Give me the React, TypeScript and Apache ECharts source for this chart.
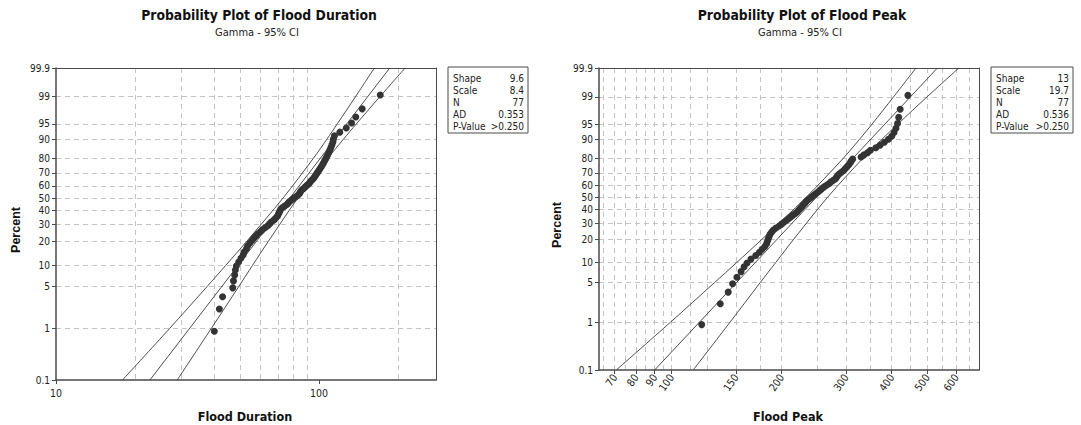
import React, { useEffect, useRef } from "react";
import * as echarts from "echarts";

// ---------- data ----------
const plotPercent = [
  0.9, 2.2, 3.5, 4.8, 6.1, 7.4, 8.7, 9.9, 11.2, 12.5,
  13.8, 15.1, 16.4, 17.7, 19.0, 20.3, 21.6, 22.9, 24.2, 25.5,
  26.7, 28.0, 29.3, 30.6, 31.9, 33.2, 34.5, 35.8, 37.1, 38.4,
  39.7, 41.0, 42.2, 43.5, 44.8, 46.1, 47.4, 48.7, 50.0, 51.3,
  52.6, 53.9, 55.2, 56.5, 57.8, 59.0, 60.3, 61.6, 62.9, 64.2,
  65.5, 66.8, 68.1, 69.4, 70.7, 72.0, 73.3, 74.5, 75.8, 77.1,
  78.4, 79.7, 81.0, 82.3, 83.6, 84.9, 86.2, 87.5, 88.8, 90.1,
  91.3, 92.6, 93.9, 95.2, 96.5, 97.8, 99.1,
];

const durationData = [
  40.0, 41.8, 43.0, 47.0, 47.3, 47.8, 48.1, 48.5, 49.5, 50.5,
  51.5, 52.0, 53.0, 53.5, 54.5, 55.5, 56.5, 57.5, 58.5, 60.0,
  61.0, 62.5, 64.0, 65.0, 66.0, 67.5, 68.5, 69.5, 70.0, 70.5,
  71.0, 71.5, 72.5, 74.0, 75.5, 76.5, 77.5, 79.0, 80.5, 82.0,
  83.5, 84.5, 85.0, 86.0, 87.5, 88.5, 90.0, 91.5, 92.5, 93.5,
  95.0, 96.0, 97.0, 98.0, 99.0, 100.0, 101.0, 102.0, 103.0, 104.0,
  105.0, 106.0, 107.0, 108.0, 109.0, 110.0, 111.0, 112.0, 113.0, 113.5,
  114.5, 120.0, 127.0, 133.0, 138.0, 146.0, 171.0,
];

const peakData = [
  121, 136, 143, 147, 151, 155, 158, 161, 165, 170,
  174, 177, 180, 182, 183, 184, 185, 186, 188, 190,
  193, 197, 200, 203, 206, 209, 212, 215, 218, 221,
  223, 225, 227, 229, 231, 233, 235, 238, 241, 244,
  247, 250, 253, 256, 259, 262, 266, 270, 273, 277,
  281, 283, 285, 288, 292, 296, 299, 302, 305, 308,
  310, 313, 330, 336, 344, 350, 362, 372, 382, 392,
  400, 406, 411, 415, 418, 422, 443,
];

const ciPercent = [0.1, 1, 5, 10, 20, 50, 80, 90, 95, 99, 99.9];
const fitPercent = [0.1, 99.9];

const durationFit = [22.76, 185.8];
const durationLower = [17.9, 27.0, 37.5, 44.1, 53.1, 73.0, 95.1, 107.2, 117.4, 137.8, 162.4];
const durationUpper = [28.9, 38.9, 49.5, 55.8, 64.2, 83.1, 107.9, 123.9, 138.7, 170.6, 212.6];

const peakFit = [90.0, 533.4];
const peakLower = [70.7, 99.4, 131.1, 150.7, 176.7, 233.3, 294.4, 326.4, 353.2, 404.7, 466.1];
const peakUpper = [114.7, 144.6, 174.8, 192.7, 215.8, 267.0, 333.0, 375.7, 415.4, 499.7, 610.4];

const percentTicks = [0.1, 1, 5, 10, 20, 30, 40, 50, 60, 70, 80, 90, 95, 99, 99.9];
const percentGrid = [1, 5, 10, 20, 30, 40, 50, 60, 70, 80, 90, 95, 99];

const durationTicks = [10, 100];
const durationGrid = [20, 30, 40, 50, 60, 70, 80, 90, 200];
const peakTicks = [70, 80, 90, 100, 150, 200, 300, 400, 500, 600];
const peakGrid = [65, 70, 75, 80, 85, 90, 95, 100, 112.5, 125, 150, 175, 200, 250, 300, 350, 400, 450, 500, 550, 600, 650];

const durationStats = [["Shape", "9.6"], ["Scale", "8.4"], ["N", "77"], ["AD", "0.353"], ["P-Value", ">0.250"]];
const peakStats = [["Shape", "13"], ["Scale", "19.7"], ["N", "77"], ["AD", "0.536"], ["P-Value", ">0.250"]];

// ---------- gamma probability scale ----------
function lnGamma(z: number): number {
  const g = 7;
  const c = [0.99999999999980993, 676.5203681218851, -1259.1392167224028, 771.32342877765313,
    -176.61502916214059, 12.507343278686905, -0.13857109526572012, 9.9843695780195716e-6, 1.5056327351493116e-7];
  if (z < 0.5) return Math.log(Math.PI / Math.sin(Math.PI * z)) - lnGamma(1 - z);
  z -= 1;
  let x = c[0];
  for (let i = 1; i < g + 2; i++) x += c[i] / (z + i);
  const t = z + g + 0.5;
  return 0.5 * Math.log(2 * Math.PI) + (z + 0.5) * Math.log(t) - t + Math.log(x);
}
function gammaP(a: number, x: number): number {
  if (x <= 0) return 0;
  const lg = -x + a * Math.log(x) - lnGamma(a);
  if (x < a + 1) {
    let ap = a, sum = 1 / a, del = sum;
    for (let n = 0; n < 1000; n++) {
      ap += 1; del *= x / ap; sum += del;
      if (Math.abs(del) < Math.abs(sum) * 1e-15) break;
    }
    return sum * Math.exp(lg);
  }
  let b = x + 1 - a, c = 1 / 1e-300, d = 1 / b, h = d;
  for (let i = 1; i < 1000; i++) {
    const an = -i * (i - a);
    b += 2;
    d = an * d + b; if (Math.abs(d) < 1e-300) d = 1e-300;
    c = b + an / c; if (Math.abs(c) < 1e-300) c = 1e-300;
    d = 1 / d;
    const del = d * c; h *= del;
    if (Math.abs(del - 1) < 1e-15) break;
  }
  return 1 - Math.exp(lg) * h;
}
function probScale(shape: number) {
  return (pct: number) => {
    const p = pct / 100;
    let lo = Math.log(1e-6), hi = Math.log(shape * 50);
    for (let i = 0; i < 80; i++) {
      const mid = (lo + hi) / 2;
      if (gammaP(shape, Math.exp(mid)) < p) lo = mid; else hi = mid;
    }
    return (lo + hi) / 2;
  };
}

const FONT_NARROW = "'Liberation Sans Narrow', 'Arial Narrow', 'DejaVu Sans Condensed', sans-serif";
const FONT_TICK = "'DejaVu Sans Condensed', 'Liberation Sans Narrow', sans-serif";
const FRAME = "#4a4a4a";
const GRID = "#c4c4c4";
const LINE = "#3a3a3a";
const DOT = "#333333";

type Panel = {
  left: number; top: number; width: number; height: number;
  xMin: number; xMax: number; shape: number;
  data: number[]; fit: number[]; lower: number[]; upper: number[];
  ticks: number[]; grid: number[]; rotate: number;
  title: string; xName: string; stats: string[][];
  titleX: number; boxX: number; boxW: number; percentX: number;
};

const panels: Panel[] = [
  {
    left: 56, top: 68, width: 380, height: 312, xMin: 10, xMax: 278.6, shape: 9.6,
    data: durationData, fit: durationFit, lower: durationLower, upper: durationUpper,
    ticks: durationTicks, grid: durationGrid, rotate: 0,
    title: "Probability Plot of Flood Duration", xName: "Flood Duration", stats: durationStats,
    titleX: 259, boxX: 448, boxW: 80, percentX: 16,
  },
  {
    left: 599, top: 68, width: 380, height: 302, xMin: 63.4, xMax: 693, shape: 13,
    data: peakData, fit: peakFit, lower: peakLower, upper: peakUpper,
    ticks: peakTicks, grid: peakGrid, rotate: 55,
    title: "Probability Plot of Flood Peak", xName: "Flood Peak", stats: peakStats,
    titleX: 802, boxX: 991, boxW: 82, percentX: 557,
  },
];

function buildOption() {
  const grids: any[] = [];
  const xAxes: any[] = [];
  const yAxes: any[] = [];
  const series: any[] = [];
  const graphics: any[] = [];

  panels.forEach((pn, i) => {
    const tq = probScale(pn.shape);
    const lg = (v: number) => Math.log10(v);
    const yTickVals = percentTicks.map(tq);
    const yLabel = (v: number) => {
      let best = 0, bd = Infinity;
      yTickVals.forEach((t, k) => { const d = Math.abs(t - v); if (d < bd) { bd = d; best = k; } });
      return String(percentTicks[best]);
    };
    grids.push({ left: pn.left, top: pn.top, width: pn.width, height: pn.height, show: false });

    const xMin = lg(pn.xMin), xMax = lg(pn.xMax);
    xAxes.push({
      gridIndex: i, type: "value", position: "bottom", min: xMin, max: xMax,
      axisLine: { show: true, onZero: false, lineStyle: { color: FRAME, width: 1.5 } },
      axisTick: { show: true, length: 4, customValues: pn.ticks.map(lg), lineStyle: { color: FRAME } },
      axisLabel: {
        customValues: pn.ticks.map(lg), rotate: pn.rotate, margin: pn.rotate ? 5 : 7,
        formatter: (v: number) => String(Math.round(Math.pow(10, v))),
        fontFamily: FONT_TICK, fontSize: 10.5, color: "#222",
      },
      splitLine: { show: false },
    });
    xAxes.push({
      gridIndex: i, type: "value", position: "top", min: xMin, max: xMax,
      axisLine: { show: true, onZero: false, lineStyle: { color: FRAME, width: 1 } },
      axisTick: { show: false, customValues: pn.grid.map(lg) },
      axisLabel: { show: false },
      splitLine: { show: true, lineStyle: { color: GRID, type: [5, 4], width: 1 } },
    });
    const yMin = tq(0.1), yMax = tq(99.9);
    yAxes.push({
      gridIndex: i, type: "value", position: "left", min: yMin, max: yMax,
      axisLine: { show: true, onZero: false, lineStyle: { color: FRAME, width: 1.5 } },
      axisTick: { show: true, length: 4, customValues: yTickVals, lineStyle: { color: FRAME } },
      axisLabel: { customValues: yTickVals, formatter: yLabel, fontFamily: FONT_TICK, fontSize: 10, color: "#222", margin: 6 },
      splitLine: { show: false },
    });
    yAxes.push({
      gridIndex: i, type: "value", position: "right", min: yMin, max: yMax,
      axisLine: { show: true, onZero: false, lineStyle: { color: FRAME, width: 1 } },
      axisTick: { show: false, customValues: percentGrid.map(tq) },
      axisLabel: { show: false },
      splitLine: { show: true, lineStyle: { color: GRID, type: [5, 4], width: 1 } },
    });

    const xi = i * 2, yi = i * 2;
    const lineSeries = (vals: number[], pcts: number[], smooth: boolean) => ({
      type: "line", xAxisIndex: xi, yAxisIndex: yi, symbol: "none", smooth: smooth ? 0.3 : false,
      data: vals.map((v, k) => [lg(v), tq(pcts[k])]),
      lineStyle: { color: LINE, width: 0.9 }, clip: true, silent: true,
    });
    series.push(lineSeries(pn.fit, fitPercent, false));
    series.push(lineSeries(pn.lower, ciPercent, true));
    series.push(lineSeries(pn.upper, ciPercent, true));
    series.push({
      type: "scatter", xAxisIndex: xi, yAxisIndex: yi, symbol: "circle", symbolSize: 7,
      data: pn.data.map((v, k) => [lg(v), tq(plotPercent[k])]),
      itemStyle: { color: DOT, opacity: 1 }, clip: true,
    });

    // titles
    graphics.push({
      type: "text", x: pn.titleX, y: 15,
      style: { text: pn.title, fontFamily: FONT_NARROW, fontWeight: "bold", fontSize: 13.8, fill: "#111", textAlign: "center", textVerticalAlign: "middle" },
    });
    graphics.push({
      type: "text", x: pn.titleX - 2, y: 32,
      style: { text: "Gamma - 95% CI", fontFamily: FONT_TICK, fontSize: 11, fill: "#222", textAlign: "center", textVerticalAlign: "middle" },
    });
    graphics.push({
      type: "text", x: pn.left + pn.width / 2 - 1, y: 416,
      style: { text: pn.xName, fontFamily: FONT_NARROW, fontWeight: "bold", fontSize: 12.5, fill: "#111", textAlign: "center", textVerticalAlign: "middle" },
    });
    graphics.push({
      type: "text", x: pn.percentX, y: pn.top + pn.height / 2 + 6, rotation: Math.PI / 2,
      style: { text: "Percent", fontFamily: "'Liberation Sans', Arial, sans-serif", fontWeight: "bold", fontSize: 12.5, fill: "#111", textAlign: "center", textVerticalAlign: "middle" },
    });
    // stats box
    const boxTop = 67, rowH = 12;
    graphics.push({
      type: "rect", shape: { x: pn.boxX, y: boxTop, width: pn.boxW, height: 66 },
      style: { fill: "#fff", stroke: FRAME, lineWidth: 1 },
    });
    pn.stats.forEach((row, r) => {
      const y = boxTop + 11 + r * rowH;
      graphics.push({
        type: "text", x: pn.boxX + 5, y,
        style: { text: row[0], fontFamily: FONT_TICK, fontSize: 10, fill: "#222", textAlign: "left", textVerticalAlign: "middle" },
      });
      graphics.push({
        type: "text", x: pn.boxX + pn.boxW - 4, y,
        style: { text: row[1], fontFamily: FONT_TICK, fontSize: 10, fill: "#222", textAlign: "right", textVerticalAlign: "middle" },
      });
    });
  });

  return {
    animation: false,
    backgroundColor: "#ffffff",
    grid: grids,
    xAxis: xAxes,
    yAxis: yAxes,
    series,
    graphic: graphics,
  };
}

export default function App() {
  const ref = useRef<HTMLDivElement>(null);
  useEffect(() => {
    if (!ref.current) return;
    const chart = echarts.init(ref.current, undefined, { renderer: "svg" });
    chart.setOption(buildOption() as any);
    return () => chart.dispose();
  }, []);
  return (
    <div
      ref={ref}
      style={{ position: "absolute", left: 0, top: 0, width: 1081, height: 425, background: "#fff" }}
    />
  );
}
